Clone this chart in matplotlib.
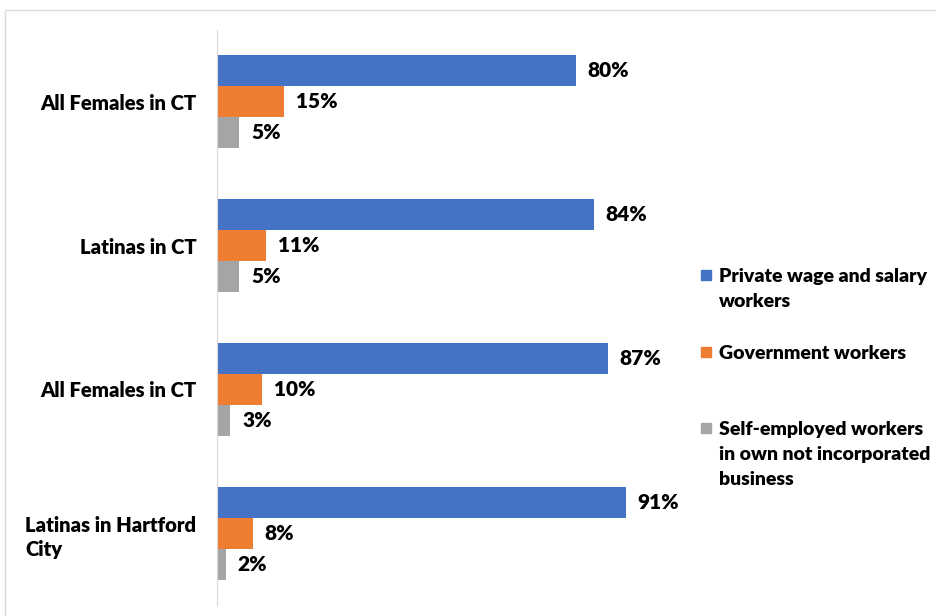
import matplotlib
matplotlib.use('Agg')
import matplotlib.pyplot as plt
from matplotlib.patches import Rectangle
import numpy as np

# Class of worker shares (%) for each group
categories = ['All Females in CT', 'Latinas in CT', 'All Females in CT', 'Latinas in Hartford\nCity']
private = [80, 84, 87, 91]
government = [15, 11, 10, 8]
self_employed = [5, 5, 3, 2]
series_names = ['Private wage and salary\nworkers', 'Government workers',
                'Self-employed workers\nin own not incorporated\nbusiness']
colors = ['#4472C4', '#ED7D31', '#A5A5A5']

plt.rcParams['font.family'] = ['Lato', 'DejaVu Sans']
plt.rcParams['font.weight'] = 'bold'

fig = plt.figure(figsize=(9.36, 6.16), dpi=100)
ax = fig.add_axes([217 / 936, 11 / 616, 449 / 936, 575 / 616])

# light chart border
fig.patches.append(Rectangle((5 / 936, -0.1), 1.2, (606 / 616) + 0.1, transform=fig.transFigure,
                             fill=False, edgecolor='#D9D9D9', linewidth=1))

y = np.arange(len(categories))
h = 0.216
for i, vals in enumerate([private, government, self_employed]):
    pos = y + (i - 1) * h
    ax.barh(pos, vals, height=h, color=colors[i])
    for p, v in zip(pos, vals):
        ax.text(v + 2.6, p, f'{v}%', va='center', ha='left', fontsize=15, fontweight='heavy')

ax.set_xlim(0, 100)
ax.set_ylim(len(categories) - 0.5, -0.5)
ax.set_yticks(y)
ax.set_yticklabels(categories, fontsize=14.6, fontweight='heavy', multialignment='left',
                   linespacing=1.35)
ax.tick_params(axis='y', length=0, pad=15)
ax.set_xticks([])
for s in ['top', 'right', 'bottom']:
    ax.spines[s].set_visible(False)
ax.spines['left'].set_color('#D9D9D9')

# legend drawn as squares with wrapped text
legend_y = [275, 352, 428]
for name, c, ly in zip(series_names, colors, legend_y):
    fig.patches.append(Rectangle((701 / 936, 1 - (ly + 5) / 616), 10 / 936, 10 / 616,
                                 transform=fig.transFigure, color=c))
    fig.text(719 / 936, 1 - (ly - 7) / 616, name, ha='left', va='top', fontsize=14,
             fontweight='heavy', linespacing=1.58)

fig.savefig('out.png', dpi=100)
